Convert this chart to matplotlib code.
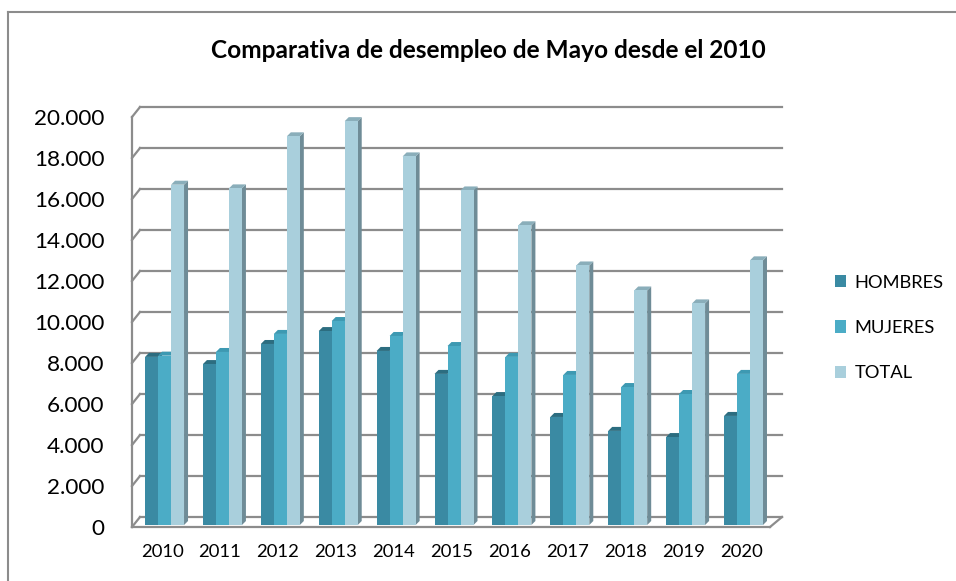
import matplotlib.pyplot as plt
from matplotlib.patches import Polygon, Rectangle
from matplotlib.lines import Line2D

plt.rcParams['font.family'] = ['Lato', 'DejaVu Sans']

years = ['2010', '2011', '2012', '2013', '2014', '2015', '2016', '2017', '2018', '2019', '2020']
hombres = [8200, 7850, 8830, 9460, 8490, 7370, 6290, 5270, 4590, 4290, 5320]
mujeres = [8260, 8440, 9320, 9950, 9220, 8730, 8200, 7320, 6730, 6390, 7370]
total = [16600, 16420, 18960, 19700, 17980, 16320, 14620, 12660, 11440, 10810, 12910]
series = ['HOMBRES', 'MUJERES', 'TOTAL']
yticks = list(range(0, 20001, 2000))

front = ['#3A8AA3', '#4BACC6', '#A9CFDC']
side = ['#2F7186', '#3B8CA3', '#6F8C97']
cap = ['#2C6D80', '#3D99B2', '#8AAEBA']
gridc = '#8C8C8C'

W, H = 956, 581
fig = plt.figure(figsize=(W / 100, H / 100), dpi=100)
ax_l, ax_b, ax_w, ax_h = 132, 54, 638, 410
ax = fig.add_axes([ax_l / W, ax_b / H, ax_w / W, ax_h / H])
xmin, xmax = -0.52, 10.5
ymax = 20000
ax.set_xlim(xmin, xmax)
ax.set_ylim(0, ymax)
for s in ax.spines.values():
    s.set_visible(False)

# pixel -> data
ux = (xmax - xmin) / ax_w
uy = ymax / ax_h
dx, dy = 8 * ux, 10 * uy      # depth of the back wall
cx, cy = 4 * ux, 4 * uy       # depth of a bar
b0 = 2 * uy

# back wall grid + little diagonals on the left
for v in yticks:
    ax.plot([xmin + dx, xmax + dx + 4 * ux], [v + dy, v + dy], color=gridc, lw=1.6, clip_on=False, zorder=1)
    ax.plot([xmin, xmin + dx], [v, v + dy], color=gridc, lw=1.6, clip_on=False, zorder=1)
ax.plot([xmin, xmin], [0, ymax], color=gridc, lw=1.6, clip_on=False, zorder=1)
# floor
ax.plot([xmin, xmax], [0, 0], color=gridc, lw=1.6, clip_on=False, zorder=1)
ax.plot([xmax, xmax + dx + 4 * ux], [0, dy], color=gridc, lw=1.6, clip_on=False, zorder=1)

w = 0.2245
offs = [-w + 0.042, 0.042, w + 0.042]
z = 2
for i in range(len(years)):
    for k, vals in enumerate([hombres, mujeres, total]):
        xc = i + offs[k]
        xl, xr = xc - w / 2, xc + w / 2
        top = b0 + vals[i]
        ax.add_patch(Polygon([(xr, b0), (xr, top), (xr + cx, top + cy), (xr + cx, b0 + cy)],
                             closed=True, facecolor=side[k], edgecolor='none', zorder=z))
        ax.add_patch(Polygon([(xl, top), (xr, top), (xr + cx, top + cy), (xl + cx, top + cy)],
                             closed=True, facecolor=cap[k], edgecolor='none', zorder=z))
        ax.bar(xc, vals[i], width=w, bottom=b0, color=front[k], zorder=z + 0.5)
        z += 1

ax.set_xticks(range(len(years)))
ax.set_xticklabels(years, fontsize=13.3)
ax.set_yticks(yticks)
ax.set_yticklabels([f"{v:,}".replace(',', '.') for v in yticks], fontsize=16.2)
ax.tick_params(axis='x', length=0, pad=12)
ax.tick_params(axis='y', length=0, pad=20)

fig.text(488 / W, 1 - 50 / H, 'Comparativa de desempleo de Mayo desde el 2010',
         ha='center', va='center', fontsize=17.6, fontweight='bold')

handles = [Rectangle((0, 0), 1, 1, facecolor=c) for c in front]
fig.legend(handles, series, loc='center left', bbox_to_anchor=(818 / W, 1 - 328 / H),
           frameon=False, fontsize=13.2, handlelength=0.65, handleheight=0.65,
           handletextpad=0.45, labelspacing=1.6)

# chart border
fig.add_artist(Line2D([8 / W, 8 / W], [0, 1 - 12 / H], color=gridc, lw=1.5))
fig.add_artist(Line2D([8 / W, 1], [1 - 12 / H, 1 - 12 / H], color=gridc, lw=1.5))

fig.savefig('out.png', dpi=100)
